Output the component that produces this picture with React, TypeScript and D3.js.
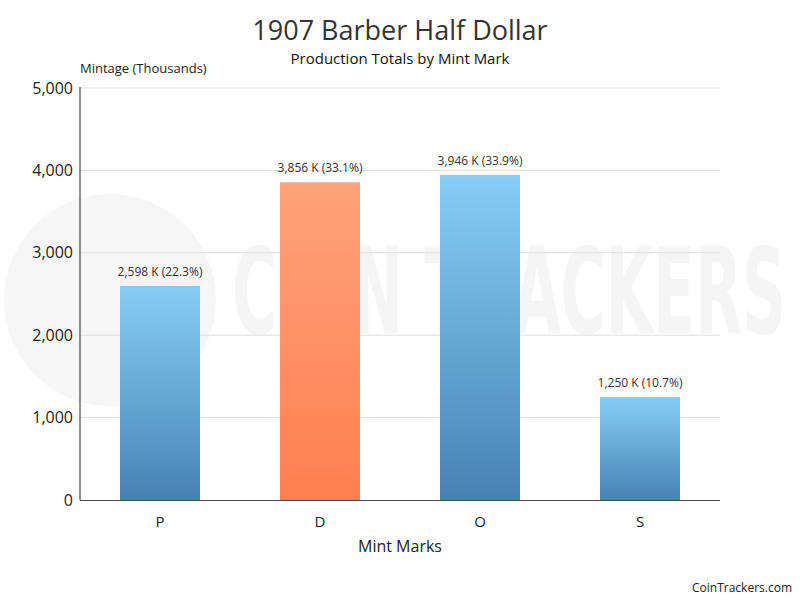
import * as d3 from "d3";
import React, { useEffect, useRef } from "react";

// mint marks and mintage in thousands
const MINTS = ["P", "D", "O", "S"];
const MINTAGE = [2598, 3856, 3946, 1250];
const SHARES = ["22.3%", "33.1%", "33.9%", "10.7%"];
const Y_TICKS = [0, 1000, 2000, 3000, 4000, 5000];

const W = 800;
const H = 600;
const FONT = "'Open Sans', 'Noto Sans', sans-serif";

export default function App() {
  const svgRef = useRef<SVGSVGElement | null>(null);

  useEffect(() => {
    const svg = d3.select(svgRef.current);
    svg.selectAll("*").remove();

    const left = 80, right = 720, top = 88, bottom = 500;

    const x = d3.scaleBand<string>()
      .domain(MINTS)
      .range([left, right])
      .paddingInner(0.5)
      .paddingOuter(0.25);

    const y = d3.scaleLinear().domain([0, 5000]).range([bottom, top]);

    const defs = svg.append("defs");
    const grad = (id: string, c1: string, c2: string) => {
      const g = defs.append("linearGradient").attr("id", id)
        .attr("x1", 0).attr("y1", 0).attr("x2", 0).attr("y2", 1);
      g.append("stop").attr("offset", "0%").attr("stop-color", c1);
      g.append("stop").attr("offset", "100%").attr("stop-color", c2);
    };
    grad("gBlue", "#87cdf8", "#4682b4");
    grad("gOrange", "#ffa27b", "#ff7f50");

    svg.append("rect").attr("width", W).attr("height", H).attr("fill", "#fff");

    // faint watermark (logo disc + condensed wordmark)
    const wm = svg.append("g").attr("opacity", 0.04);
    wm.append("circle").attr("cx", 110).attr("cy", 300).attr("r", 106).attr("fill", "#444");
    wm.append("text")
      .attr("x", 232).attr("y", 333)
      .attr("font-family", "'DejaVu Sans Condensed', 'Liberation Sans Narrow', " + FONT)
      .attr("font-weight", 700)
      .attr("font-size", 120)
      .attr("textLength", 554)
      .attr("lengthAdjust", "spacingAndGlyphs")
      .attr("fill", "#222")
      .text("COIN TRACKERS");

    // gridlines
    svg.append("g")
      .selectAll("line")
      .data(Y_TICKS.filter(t => t > 0))
      .join("line")
      .attr("x1", left).attr("x2", right)
      .attr("y1", d => y(d)).attr("y2", d => y(d))
      .attr("stroke", "#dcdcdc").attr("stroke-width", 1);

    // bars
    svg.append("g")
      .selectAll("rect")
      .data(MINTS)
      .join("rect")
      .attr("x", d => x(d) ?? 0)
      .attr("width", x.bandwidth())
      .attr("y", (_, i) => y(MINTAGE[i]))
      .attr("height", (_, i) => bottom - y(MINTAGE[i]))
      .attr("fill", d => d === "D" ? "url(#gOrange)" : "url(#gBlue)");

    // value labels
    svg.append("g")
      .selectAll("text")
      .data(MINTS)
      .join("text")
      .attr("x", d => (x(d) ?? 0) + x.bandwidth() / 2)
      .attr("y", (_, i) => y(MINTAGE[i]) - 10)
      .attr("text-anchor", "middle")
      .attr("font-family", FONT)
      .attr("font-size", 12)
      .attr("fill", "#333")
      .text((_, i) => `${d3.format(",")(MINTAGE[i])} K (${SHARES[i]})`);

    // axes lines
    svg.append("line").attr("x1", left).attr("x2", left).attr("y1", top - 1).attr("y2", bottom)
      .attr("stroke", "#222").attr("stroke-width", 1);
    svg.append("line").attr("x1", left).attr("x2", right).attr("y1", bottom + 0.5).attr("y2", bottom + 0.5)
      .attr("stroke", "#444").attr("stroke-width", 1);

    // y tick labels
    svg.append("g")
      .selectAll("text")
      .data(Y_TICKS)
      .join("text")
      .attr("x", left - 7)
      .attr("y", d => y(d))
      .attr("dy", "0.35em")
      .attr("text-anchor", "end")
      .attr("font-family", FONT)
      .attr("font-size", 16)
      .attr("fill", "#222")
      .text(d => d3.format(",")(d));

    // x tick labels
    svg.append("g")
      .selectAll("text")
      .data(MINTS)
      .join("text")
      .attr("x", d => (x(d) ?? 0) + x.bandwidth() / 2)
      .attr("y", 522)
      .attr("dy", "0.35em")
      .attr("text-anchor", "middle")
      .attr("font-family", FONT)
      .attr("font-size", 15)
      .attr("fill", "#222")
      .text(d => d);

    const txt = (xx: number, yy: number, s: string, size: number, anchor: string, fill: string) =>
      svg.append("text")
        .attr("x", xx).attr("y", yy)
        .attr("text-anchor", anchor)
        .attr("font-family", FONT)
        .attr("font-size", size)
        .attr("fill", fill)
        .text(s);

    txt(400, 40, "1907 Barber Half Dollar", 27, "middle", "#333");
    txt(400, 64, "Production Totals by Mint Mark", 15, "middle", "#111");
    txt(80, 73, "Mintage (Thousands)", 13, "start", "#222");
    txt(400, 552, "Mint Marks", 16, "middle", "#222");
    txt(792, 592, "CoinTrackers.com", 12, "end", "#222");
  }, []);

  return (
    <svg
      ref={svgRef}
      width={W}
      height={H}
      style={{ position: "absolute", left: 0, top: 0, display: "block" }}
    />
  );
}
